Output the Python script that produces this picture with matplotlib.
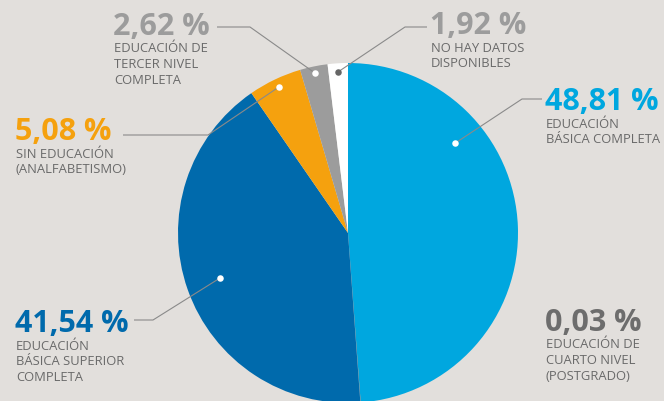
import numpy as np
import matplotlib.pyplot as plt

# Data
shares = [48.81, 0.03, 41.54, 5.08, 2.62, 1.92]
pct_labels = ['48,81 %', '0,03 %', '41,54 %', '5,08 %', '2,62 %', '1,92 %']
descriptions = [
    'EDUCACIÓN\nBÁSICA COMPLETA',
    'EDUCACIÓN DE\nCUARTO NIVEL\n(POSTGRADO)',
    'EDUCACIÓN\nBÁSICA SUPERIOR\nCOMPLETA',
    'SIN EDUCACIÓN\n(ANALFABETISMO)',
    'EDUCACIÓN DE\nTERCER NIVEL\nCOMPLETA',
    'NO HAY DATOS\nDISPONIBLES',
]
slice_colors = ['#00a7df', '#6d6d6d', '#006aac', '#f5a10e', '#9c9c9c', '#ffffff']
pct_colors = ['#00a7df', '#6d6d6d', '#006aac', '#f5a10e', '#9c9c9c', '#9c9c9c']

# Layout (pixels, y measured from top)
W, H = 664, 401
cx, cy, R = 348, 233, 170
label_pos = [(545, 110), (545, 331), (15, 332), (15, 140), (113, 35), (430, 34)]
# anchor dot: (angle override in degrees clockwise from top or None, radius fraction)
anchors = [(50, 0.82), None, (None, 0.80), (None, 0.95), (None, 0.96), (None, 0.95)]
elbows = [((522, 99), (542, 99)), None, ((153, 320), (134, 320)),
          ((208, 135), (123, 135)), ((250, 27), (217, 27)), ((405, 27), (427, 27))]
dot_colors = ['white', None, 'white', 'white', 'white', '#666666']

bg = '#e2dfdc'
text_grey = '#6a6a6a'
font = 'Open Sans'

fig = plt.figure(figsize=(W / 100, H / 100), dpi=100, facecolor=bg)
ax = fig.add_axes([0, 0, 1, 1])
ax.set_facecolor(bg)


def fy(y):
    return H - y


wedges, _ = ax.pie(shares, colors=slice_colors, startangle=90, counterclock=False,
                   center=(cx, fy(cy)), radius=R, frame=True,
                   wedgeprops=dict(linewidth=0))
ax.set_xlim(0, W)
ax.set_ylim(0, H)
ax.set_aspect('equal')
ax.axis('off')

cum = np.cumsum([0] + shares[:-1])
for i, share in enumerate(shares):
    x0, y0 = label_pos[i]
    ax.text(x0, fy(y0), pct_labels[i], color=pct_colors[i], fontsize=22,
            fontweight='bold', family=font, va='baseline', ha='left')
    for k, line in enumerate(descriptions[i].split('\n')):
        ax.text(x0 + 1, fy(y0 + 17.5 + 15.7 * k), line, color=text_grey,
                fontsize=9.4, family=font, va='baseline', ha='left')

    if anchors[i] is None:
        continue
    ang, rf = anchors[i]
    if ang is None:
        ang = (cum[i] + share / 2) / 100 * 360
    a = np.radians(ang)
    dx = cx + rf * R * np.sin(a)
    dy = cy - rf * R * np.cos(a)
    (ex, ey), (hx, hy) = elbows[i]
    ax.plot([dx, ex, hx], [fy(dy), fy(ey), fy(hy)], color='#8a8a8a', lw=0.8,
            solid_capstyle='butt', zorder=3)
    ax.scatter([dx], [fy(dy)], s=22, color=dot_colors[i], zorder=4, linewidths=0)

fig.savefig('out.png', dpi=100, facecolor=bg)
